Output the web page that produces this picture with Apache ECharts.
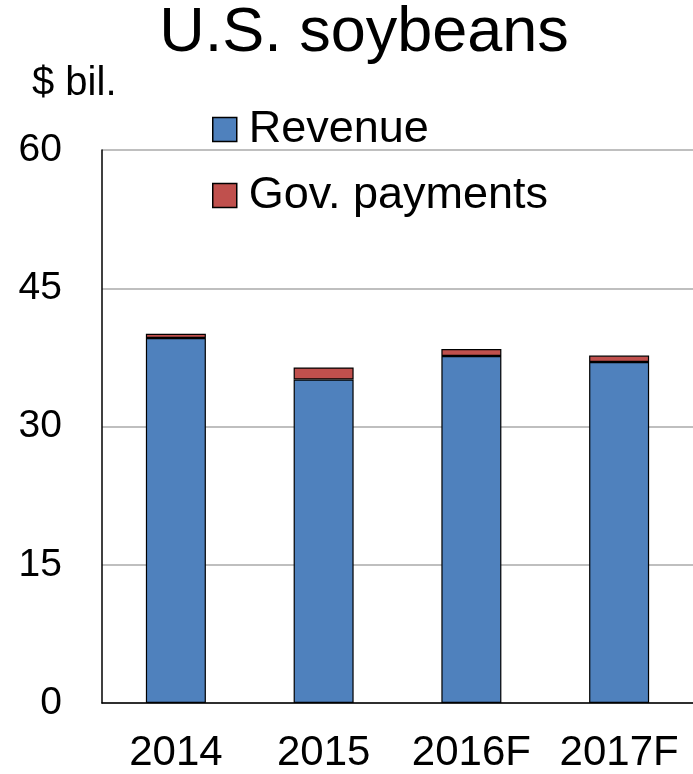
<!DOCTYPE html>
<html>
<head>
<meta charset="utf-8">
<script src="https://cdn.jsdelivr.net/npm/echarts@6/dist/echarts.min.js"></script>
<style>
html,body{margin:0;padding:0;background:#fff;}
#chart{width:693px;height:774px;}
</style>
</head>
<body>
<div id="chart"></div>
<script>
const categories = ['2014', '2015', '2016F', '2017F'];
const revenue = [39.6, 35.1, 37.65, 37.0];
const govPayments = [0.45, 1.3, 0.75, 0.7];
const yTicks = [0, 15, 30, 45, 60];

const FONT = 'Liberation Sans, Arial, sans-serif';
const chart = echarts.init(document.getElementById('chart'), null, {renderer: 'canvas'});
chart.setOption({
  animation: false,
  backgroundColor: '#ffffff',
  title: {
    text: 'U.S. soybeans',
    left: 364,
    textAlign: 'center',
    top: 2,
    padding: 0,
    textStyle: {fontFamily: FONT, fontSize: 63, fontWeight: 'normal', color: '#000'}
  },
  graphic: [{
    type: 'text',
    left: 32,
    top: 64,
    style: {text: '$ bil.', font: '40px Liberation Sans, Arial, sans-serif', fill: '#000'}
  }],
  legend: {
    orient: 'vertical',
    left: 212,
    top: 107,
    padding: 0,
    itemWidth: 24,
    itemHeight: 24,
    itemGap: 21,
    icon: 'rect',
    itemStyle: {borderColor: '#000', borderWidth: 1.5},
    textStyle: {fontFamily: FONT, fontSize: 45, color: '#000', lineHeight: 44, padding: [0, 0, 0, 7]},
    data: ['Revenue', 'Gov. payments']
  },
  grid: {left: 102, top: 150, width: 598, height: 554},
  xAxis: {
    type: 'category',
    data: categories,
    axisLine: {lineStyle: {color: '#000', width: 1.5}},
    axisTick: {show: false},
    axisLabel: {interval: 0, fontFamily: FONT, fontSize: 42, color: '#000', margin: 29}
  },
  yAxis: {
    type: 'value',
    min: yTicks[0],
    max: yTicks[yTicks.length - 1],
    interval: 15,
    axisLine: {show: true, lineStyle: {color: '#000', width: 1.5}},
    axisTick: {show: false},
    splitLine: {lineStyle: {color: '#aaaaaa', width: 1.5}},
    axisLabel: {fontFamily: FONT, fontSize: 39, color: '#000', margin: 40, padding: [4, 0, 0, 0]}
  },
  series: [
    {
      name: 'Revenue',
      type: 'bar',
      stack: 'total',
      barWidth: 60,
      data: revenue,
      itemStyle: {color: '#4F81BD', borderColor: '#000', borderWidth: 1.2}
    },
    {
      name: 'Gov. payments',
      type: 'bar',
      stack: 'total',
      barWidth: 60,
      data: govPayments,
      itemStyle: {color: '#C0504D', borderColor: '#000', borderWidth: 1.2}
    }
  ]
});
</script>
</body>
</html>
